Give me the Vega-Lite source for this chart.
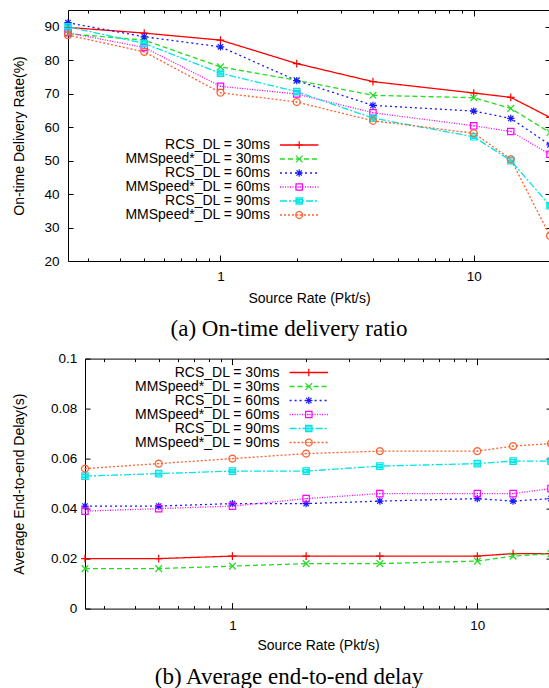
{
  "$schema": "https://vega.github.io/schema/vega-lite/v6.json",
  "padding": {"left": 10, "top": 9, "right": 0, "bottom": 0},
  "spacing": 8.6,
  "config": {
    "view": {"stroke": "black", "strokeWidth": 1},
    "axis": {"grid": false, "domain": false, "labelFont": "Liberation Sans", "titleFont": "Liberation Sans", "labelColor": "black", "titleColor": "black", "tickColor": "black", "tickWidth": 1, "titleFontWeight": "normal", "labelFontSize": 13.5, "titleFontSize": 14, "labelOverlap": false, "labelFlush": false},
    "legend": {"labelFont": "Liberation Sans", "labelColor": "black"},
    "title": {"font": "Liberation Serif", "fontWeight": "normal", "color": "black"}
  },
  "resolve": {
    "scale": {"stroke": "independent", "strokeDash": "independent", "color": "independent", "shape": "independent"},
    "legend": {"stroke": "independent", "strokeDash": "independent", "color": "independent", "shape": "independent"}
  },
  "datasets": {
    "ontime": [
      {"rate": 0.25, "series": "RCS_DL = 30ms", "v": 89.8},
      {"rate": 0.5, "series": "RCS_DL = 30ms", "v": 88.1},
      {"rate": 1, "series": "RCS_DL = 30ms", "v": 86.0},
      {"rate": 2, "series": "RCS_DL = 30ms", "v": 79.0},
      {"rate": 4, "series": "RCS_DL = 30ms", "v": 73.6},
      {"rate": 10, "series": "RCS_DL = 30ms", "v": 70.2},
      {"rate": 14, "series": "RCS_DL = 30ms", "v": 68.9},
      {"rate": 20, "series": "RCS_DL = 30ms", "v": 62.9},
      {"rate": 0.25, "series": "MMSpeed*_DL = 30ms", "v": 87.9},
      {"rate": 0.5, "series": "MMSpeed*_DL = 30ms", "v": 86.0},
      {"rate": 1, "series": "MMSpeed*_DL = 30ms", "v": 78.0},
      {"rate": 2, "series": "MMSpeed*_DL = 30ms", "v": 74.0},
      {"rate": 4, "series": "MMSpeed*_DL = 30ms", "v": 69.5},
      {"rate": 10, "series": "MMSpeed*_DL = 30ms", "v": 68.8},
      {"rate": 14, "series": "MMSpeed*_DL = 30ms", "v": 65.6},
      {"rate": 20, "series": "MMSpeed*_DL = 30ms", "v": 58.4},
      {"rate": 0.25, "series": "RCS_DL = 60ms", "v": 91.2},
      {"rate": 0.5, "series": "RCS_DL = 60ms", "v": 87.0},
      {"rate": 1, "series": "RCS_DL = 60ms", "v": 84.0},
      {"rate": 2, "series": "RCS_DL = 60ms", "v": 73.9},
      {"rate": 4, "series": "RCS_DL = 60ms", "v": 66.5},
      {"rate": 10, "series": "RCS_DL = 60ms", "v": 64.8},
      {"rate": 14, "series": "RCS_DL = 60ms", "v": 62.6},
      {"rate": 20, "series": "RCS_DL = 60ms", "v": 54.7},
      {"rate": 0.25, "series": "MMSpeed*_DL = 60ms", "v": 88.2},
      {"rate": 0.5, "series": "MMSpeed*_DL = 60ms", "v": 83.8},
      {"rate": 1, "series": "MMSpeed*_DL = 60ms", "v": 72.2},
      {"rate": 2, "series": "MMSpeed*_DL = 60ms", "v": 69.9},
      {"rate": 4, "series": "MMSpeed*_DL = 60ms", "v": 64.3},
      {"rate": 10, "series": "MMSpeed*_DL = 60ms", "v": 60.4},
      {"rate": 14, "series": "MMSpeed*_DL = 60ms", "v": 58.7},
      {"rate": 20, "series": "MMSpeed*_DL = 60ms", "v": 51.9},
      {"rate": 0.25, "series": "RCS_DL = 90ms", "v": 90.0},
      {"rate": 0.5, "series": "RCS_DL = 90ms", "v": 85.0},
      {"rate": 1, "series": "RCS_DL = 90ms", "v": 76.1},
      {"rate": 2, "series": "RCS_DL = 90ms", "v": 70.6},
      {"rate": 4, "series": "RCS_DL = 90ms", "v": 62.7},
      {"rate": 10, "series": "RCS_DL = 90ms", "v": 57.1},
      {"rate": 14, "series": "RCS_DL = 90ms", "v": 50.0},
      {"rate": 20, "series": "RCS_DL = 90ms", "v": 36.5},
      {"rate": 0.25, "series": "MMSpeed*_DL = 90ms", "v": 87.5},
      {"rate": 0.5, "series": "MMSpeed*_DL = 90ms", "v": 82.5},
      {"rate": 1, "series": "MMSpeed*_DL = 90ms", "v": 70.3},
      {"rate": 2, "series": "MMSpeed*_DL = 90ms", "v": 67.5},
      {"rate": 4, "series": "MMSpeed*_DL = 90ms", "v": 61.9},
      {"rate": 10, "series": "MMSpeed*_DL = 90ms", "v": 58.2},
      {"rate": 14, "series": "MMSpeed*_DL = 90ms", "v": 50.4},
      {"rate": 20, "series": "MMSpeed*_DL = 90ms", "v": 27.5}
    ],
    "delay": [
      {"rate": 0.25, "series": "RCS_DL = 30ms", "v": 0.020},
      {"rate": 0.5, "series": "RCS_DL = 30ms", "v": 0.020},
      {"rate": 1, "series": "RCS_DL = 30ms", "v": 0.021},
      {"rate": 2, "series": "RCS_DL = 30ms", "v": 0.021},
      {"rate": 4, "series": "RCS_DL = 30ms", "v": 0.021},
      {"rate": 10, "series": "RCS_DL = 30ms", "v": 0.021},
      {"rate": 14, "series": "RCS_DL = 30ms", "v": 0.022},
      {"rate": 20, "series": "RCS_DL = 30ms", "v": 0.022},
      {"rate": 0.25, "series": "MMSpeed*_DL = 30ms", "v": 0.016},
      {"rate": 0.5, "series": "MMSpeed*_DL = 30ms", "v": 0.016},
      {"rate": 1, "series": "MMSpeed*_DL = 30ms", "v": 0.017},
      {"rate": 2, "series": "MMSpeed*_DL = 30ms", "v": 0.018},
      {"rate": 4, "series": "MMSpeed*_DL = 30ms", "v": 0.018},
      {"rate": 10, "series": "MMSpeed*_DL = 30ms", "v": 0.019},
      {"rate": 14, "series": "MMSpeed*_DL = 30ms", "v": 0.021},
      {"rate": 20, "series": "MMSpeed*_DL = 30ms", "v": 0.022},
      {"rate": 0.25, "series": "RCS_DL = 60ms", "v": 0.041},
      {"rate": 0.5, "series": "RCS_DL = 60ms", "v": 0.041},
      {"rate": 1, "series": "RCS_DL = 60ms", "v": 0.042},
      {"rate": 2, "series": "RCS_DL = 60ms", "v": 0.042},
      {"rate": 4, "series": "RCS_DL = 60ms", "v": 0.043},
      {"rate": 10, "series": "RCS_DL = 60ms", "v": 0.044},
      {"rate": 14, "series": "RCS_DL = 60ms", "v": 0.043},
      {"rate": 20, "series": "RCS_DL = 60ms", "v": 0.044},
      {"rate": 0.25, "series": "MMSpeed*_DL = 60ms", "v": 0.039},
      {"rate": 0.5, "series": "MMSpeed*_DL = 60ms", "v": 0.040},
      {"rate": 1, "series": "MMSpeed*_DL = 60ms", "v": 0.041},
      {"rate": 2, "series": "MMSpeed*_DL = 60ms", "v": 0.044},
      {"rate": 4, "series": "MMSpeed*_DL = 60ms", "v": 0.046},
      {"rate": 10, "series": "MMSpeed*_DL = 60ms", "v": 0.046},
      {"rate": 14, "series": "MMSpeed*_DL = 60ms", "v": 0.046},
      {"rate": 20, "series": "MMSpeed*_DL = 60ms", "v": 0.048},
      {"rate": 0.25, "series": "RCS_DL = 90ms", "v": 0.053},
      {"rate": 0.5, "series": "RCS_DL = 90ms", "v": 0.054},
      {"rate": 1, "series": "RCS_DL = 90ms", "v": 0.055},
      {"rate": 2, "series": "RCS_DL = 90ms", "v": 0.055},
      {"rate": 4, "series": "RCS_DL = 90ms", "v": 0.057},
      {"rate": 10, "series": "RCS_DL = 90ms", "v": 0.058},
      {"rate": 14, "series": "RCS_DL = 90ms", "v": 0.059},
      {"rate": 20, "series": "RCS_DL = 90ms", "v": 0.059},
      {"rate": 0.25, "series": "MMSpeed*_DL = 90ms", "v": 0.056},
      {"rate": 0.5, "series": "MMSpeed*_DL = 90ms", "v": 0.058},
      {"rate": 1, "series": "MMSpeed*_DL = 90ms", "v": 0.060},
      {"rate": 2, "series": "MMSpeed*_DL = 90ms", "v": 0.062},
      {"rate": 4, "series": "MMSpeed*_DL = 90ms", "v": 0.063},
      {"rate": 10, "series": "MMSpeed*_DL = 90ms", "v": 0.063},
      {"rate": 14, "series": "MMSpeed*_DL = 90ms", "v": 0.065},
      {"rate": 20, "series": "MMSpeed*_DL = 90ms", "v": 0.066}
    ]
  },
  "vconcat": [
    {
      "spacing": 0,
      "resolve": {
        "scale": {"stroke": "independent", "strokeDash": "independent", "color": "independent", "shape": "independent"},
        "legend": {"stroke": "independent", "strokeDash": "independent", "color": "independent", "shape": "independent"}
      },
      "hconcat": [
        {"width": 1, "height": 1, "data": {"values": [{"s": 0}]}, "mark": {"type": "point", "opacity": 0, "size": 0, "strokeWidth": 0}, "view": {"stroke": null}},
        {
          "width": 482,
          "height": 251,
          "data": {"name": "ontime"},
          "title": {"text": "(a) On-time delivery ratio", "orient": "bottom", "fontSize": 23, "anchor": "middle", "frame": "group", "dx": -20, "offset": 12},
          "resolve": {"axis": {"x": "independent", "y": "independent"}},
          "layer": [
            {
              "mark": {"type": "line", "strokeWidth": 1.3},
              "encoding": {
                "x": {"field": "rate", "type": "quantitative", "scale": {"type": "log", "domain": [0.25, 20], "nice": false},
                  "axis": {"orient": "bottom", "values": [0.3, 0.4, 0.5, 0.6, 0.7, 0.8, 0.9, 1, 2, 3, 4, 5, 6, 7, 8, 9, 10], "tickSize": -3, "labelPadding": 11.5, "labelExpr": "datum.value == 1 ? '1' : datum.value == 10 ? '10' : ''", "title": "Source Rate (Pkt/s)", "titlePadding": 8.7}},
                "y": {"field": "v", "type": "quantitative", "scale": {"domain": [20, 95], "nice": false, "zero": false},
                  "axis": {"orient": "left", "values": [20, 30, 40, 50, 60, 70, 80, 90], "tickSize": -5, "labelPadding": 14, "title": "On-time Delivery Rate(%)", "titlePadding": 17.5}},
                "stroke": {"field": "series", "type": "nominal",
                  "scale": {"domain": ["RCS_DL = 30ms", "MMSpeed*_DL = 30ms", "RCS_DL = 60ms", "MMSpeed*_DL = 60ms", "RCS_DL = 90ms", "MMSpeed*_DL = 90ms"], "range": ["#ff0000", "#22dd22", "#1a1aff", "#ff00ff", "#00e5e5", "#ff6030"]},
                  "legend": {"orient": "none", "legendX": 224.2, "legendY": 128, "title": null, "symbolType": "M-6,0L6,0", "symbolSize": 41, "symbolStrokeWidth": 1.5, "labelAlign": "right", "labelOffset": -36.2, "labelFontSize": 14, "rowPadding": 0, "padding": 0}},
                "strokeDash": {"field": "series", "type": "nominal",
                  "scale": {"domain": ["RCS_DL = 30ms", "MMSpeed*_DL = 30ms", "RCS_DL = 60ms", "MMSpeed*_DL = 60ms", "RCS_DL = 90ms", "MMSpeed*_DL = 90ms"], "range": [[1, 0], [5, 3], [2, 3], [1, 1.5], [7, 2, 2, 2], [2, 2]]},
                  "legend": {"orient": "none", "legendX": 224.2, "legendY": 128, "title": null, "symbolType": "M-6,0L6,0", "symbolSize": 41, "symbolStrokeWidth": 1.5, "labelAlign": "right", "labelOffset": -36.2, "labelFontSize": 14, "rowPadding": 0, "padding": 0}}
              }
            },
            {
              "mark": {"type": "point", "filled": false, "strokeWidth": 1.2, "size": 45, "opacity": 1},
              "encoding": {
                "x": {"field": "rate", "type": "quantitative", "scale": {"type": "log", "domain": [0.25, 20], "nice": false},
                  "axis": {"orient": "top", "values": [0.3, 0.4, 0.5, 0.6, 0.7, 0.8, 0.9, 1, 2, 3, 4, 5, 6, 7, 8, 9, 10], "tickSize": -3, "labels": false, "title": null}},
                "y": {"field": "v", "type": "quantitative", "scale": {"domain": [20, 95], "nice": false, "zero": false},
                  "axis": {"orient": "right", "values": [20, 30, 40, 50, 60, 70, 80, 90], "tickSize": -5, "labels": false, "title": null}},
                "color": {"field": "series", "type": "nominal",
                  "scale": {"range": ["#22dd22", "#ff00ff", "#ff6030", "#ff0000", "#1a1aff", "#00e5e5"]},
                  "legend": {"orient": "none", "legendX": 224.2, "legendY": 128, "title": null, "values": ["RCS_DL = 30ms", "MMSpeed*_DL = 30ms", "RCS_DL = 60ms", "MMSpeed*_DL = 60ms", "RCS_DL = 90ms", "MMSpeed*_DL = 90ms"], "symbolSize": 45, "symbolStrokeWidth": 1.2, "labelAlign": "right", "labelOffset": 40, "labelFontSize": 14, "labelExpr": "' '", "labelOpacity": 0, "rowPadding": 0, "padding": 0}},
                "shape": {"field": "series", "type": "nominal",
                  "scale": {"range": ["M-1,-1L1,1M-1,1L1,-1", "M-0.95,-0.95L0.95,-0.95L0.95,0.95L-0.95,0.95Z M-0.15,0L0.15,0", "M1.05,0L0.91,0.525L0.525,0.91L0,1.05L-0.525,0.91L-0.91,0.525L-1.05,0L-0.91,-0.525L-0.525,-0.91L0,-1.05L0.525,-0.91L0.91,-0.525Z M-0.15,0L0.15,0", "M-1.15,0L1.15,0M0,-1.15L0,1.15", "M-1.1,0L1.1,0M0,-1.1L0,1.1M-0.8,-0.8L0.8,0.8M-0.8,0.8L0.8,-0.8", "M-0.95,-0.95L0.95,-0.95L0.95,0.95L-0.95,0.95Z M-0.95,-0.47L0.95,-0.47 M-0.95,0L0.95,0 M-0.95,0.47L0.95,0.47"]},
                  "legend": {"orient": "none", "legendX": 224.2, "legendY": 128, "title": null, "values": ["RCS_DL = 30ms", "MMSpeed*_DL = 30ms", "RCS_DL = 60ms", "MMSpeed*_DL = 60ms", "RCS_DL = 90ms", "MMSpeed*_DL = 90ms"], "symbolSize": 45, "symbolStrokeWidth": 1.2, "labelAlign": "right", "labelOffset": 40, "labelFontSize": 14, "labelExpr": "' '", "labelOpacity": 0, "rowPadding": 0, "padding": 0}}
              }
            },
            {
              "mark": {"type": "point", "opacity": 0},
              "encoding": {
                "x": {"field": "rate", "type": "quantitative", "scale": {"type": "log", "domain": [0.25, 20], "nice": false},
                  "axis": {"orient": "bottom", "values": [1, 10], "tickSize": -6, "labels": false, "title": null}},
                "y": {"field": "v", "type": "quantitative", "axis": null}
              }
            },
            {
              "mark": {"type": "point", "opacity": 0},
              "encoding": {
                "x": {"field": "rate", "type": "quantitative", "scale": {"type": "log", "domain": [0.25, 20], "nice": false},
                  "axis": {"orient": "top", "values": [1, 10], "tickSize": -6, "labels": false, "title": null}},
                "y": {"field": "v", "type": "quantitative", "axis": null}
              }
            }
          ]
        }
      ]
    },
    {
      "spacing": 0,
      "resolve": {
        "scale": {"stroke": "independent", "strokeDash": "independent", "color": "independent", "shape": "independent"},
        "legend": {"stroke": "independent", "strokeDash": "independent", "color": "independent", "shape": "independent"}
      },
      "hconcat": [
        {"width": 1, "height": 1, "data": {"values": [{"s": 0}]}, "mark": {"type": "point", "opacity": 0, "size": 0, "strokeWidth": 0}, "view": {"stroke": null}},
        {
          "width": 466,
          "height": 250,
          "data": {"name": "delay"},
          "title": {"text": "(b) Average end-to-end delay", "orient": "bottom", "fontSize": 23, "anchor": "middle", "frame": "group", "dx": -29, "offset": 13},
          "resolve": {"axis": {"x": "independent", "y": "independent"}},
          "layer": [
            {
              "mark": {"type": "line", "strokeWidth": 1.3},
              "encoding": {
                "x": {"field": "rate", "type": "quantitative", "scale": {"type": "log", "domain": [0.25, 20], "nice": false},
                  "axis": {"orient": "bottom", "values": [0.3, 0.4, 0.5, 0.6, 0.7, 0.8, 0.9, 1, 2, 3, 4, 5, 6, 7, 8, 9, 10], "tickSize": -3, "labelPadding": 12.5, "labelExpr": "datum.value == 1 ? '1' : datum.value == 10 ? '10' : ''", "title": "Source Rate (Pkt/s)", "titlePadding": 7}},
                "y": {"field": "v", "type": "quantitative", "scale": {"domain": [0, 0.1], "nice": false},
                  "axis": {"orient": "left", "values": [0, 0.02, 0.04, 0.06, 0.08, 0.1], "format": "~g", "tickSize": -5, "labelPadding": 13.3, "title": "Average End-to-end Delay(s)", "titlePadding": 24.2}},
                "stroke": {"field": "series", "type": "nominal",
                  "scale": {"domain": ["RCS_DL = 30ms", "MMSpeed*_DL = 30ms", "RCS_DL = 60ms", "MMSpeed*_DL = 60ms", "RCS_DL = 90ms", "MMSpeed*_DL = 90ms"], "range": ["#ff0000", "#22dd22", "#1a1aff", "#ff00ff", "#00e5e5", "#ff6030"]},
                  "legend": {"orient": "none", "legendX": 216.8, "legendY": 6.9, "title": null, "symbolType": "M-6,0L6,0", "symbolSize": 41, "symbolStrokeWidth": 1.5, "labelAlign": "right", "labelOffset": -36.2, "labelFontSize": 14, "rowPadding": 0, "padding": 0}},
                "strokeDash": {"field": "series", "type": "nominal",
                  "scale": {"domain": ["RCS_DL = 30ms", "MMSpeed*_DL = 30ms", "RCS_DL = 60ms", "MMSpeed*_DL = 60ms", "RCS_DL = 90ms", "MMSpeed*_DL = 90ms"], "range": [[1, 0], [5, 3], [2, 3], [1, 1.5], [7, 2, 2, 2], [2, 2]]},
                  "legend": {"orient": "none", "legendX": 216.8, "legendY": 6.9, "title": null, "symbolType": "M-6,0L6,0", "symbolSize": 41, "symbolStrokeWidth": 1.5, "labelAlign": "right", "labelOffset": -36.2, "labelFontSize": 14, "rowPadding": 0, "padding": 0}}
              }
            },
            {
              "mark": {"type": "point", "filled": false, "strokeWidth": 1.2, "size": 45, "opacity": 1},
              "encoding": {
                "x": {"field": "rate", "type": "quantitative", "scale": {"type": "log", "domain": [0.25, 20], "nice": false},
                  "axis": {"orient": "top", "values": [0.3, 0.4, 0.5, 0.6, 0.7, 0.8, 0.9, 1, 2, 3, 4, 5, 6, 7, 8, 9, 10], "tickSize": -3, "labels": false, "title": null}},
                "y": {"field": "v", "type": "quantitative", "scale": {"domain": [0, 0.1], "nice": false},
                  "axis": {"orient": "right", "values": [0, 0.02, 0.04, 0.06, 0.08, 0.1], "tickSize": -5, "labels": false, "title": null}},
                "color": {"field": "series", "type": "nominal",
                  "scale": {"range": ["#22dd22", "#ff00ff", "#ff6030", "#ff0000", "#1a1aff", "#00e5e5"]},
                  "legend": {"orient": "none", "legendX": 216.8, "legendY": 6.9, "title": null, "values": ["RCS_DL = 30ms", "MMSpeed*_DL = 30ms", "RCS_DL = 60ms", "MMSpeed*_DL = 60ms", "RCS_DL = 90ms", "MMSpeed*_DL = 90ms"], "symbolSize": 45, "symbolStrokeWidth": 1.2, "labelAlign": "right", "labelOffset": 40, "labelFontSize": 14, "labelExpr": "' '", "labelOpacity": 0, "rowPadding": 0, "padding": 0}},
                "shape": {"field": "series", "type": "nominal",
                  "scale": {"range": ["M-1,-1L1,1M-1,1L1,-1", "M-0.95,-0.95L0.95,-0.95L0.95,0.95L-0.95,0.95Z M-0.15,0L0.15,0", "M1.05,0L0.91,0.525L0.525,0.91L0,1.05L-0.525,0.91L-0.91,0.525L-1.05,0L-0.91,-0.525L-0.525,-0.91L0,-1.05L0.525,-0.91L0.91,-0.525Z M-0.15,0L0.15,0", "M-1.15,0L1.15,0M0,-1.15L0,1.15", "M-1.1,0L1.1,0M0,-1.1L0,1.1M-0.8,-0.8L0.8,0.8M-0.8,0.8L0.8,-0.8", "M-0.95,-0.95L0.95,-0.95L0.95,0.95L-0.95,0.95Z M-0.95,-0.47L0.95,-0.47 M-0.95,0L0.95,0 M-0.95,0.47L0.95,0.47"]},
                  "legend": {"orient": "none", "legendX": 216.8, "legendY": 6.9, "title": null, "values": ["RCS_DL = 30ms", "MMSpeed*_DL = 30ms", "RCS_DL = 60ms", "MMSpeed*_DL = 60ms", "RCS_DL = 90ms", "MMSpeed*_DL = 90ms"], "symbolSize": 45, "symbolStrokeWidth": 1.2, "labelAlign": "right", "labelOffset": 40, "labelFontSize": 14, "labelExpr": "' '", "labelOpacity": 0, "rowPadding": 0, "padding": 0}}
              }
            },
            {
              "mark": {"type": "point", "opacity": 0},
              "encoding": {
                "x": {"field": "rate", "type": "quantitative", "scale": {"type": "log", "domain": [0.25, 20], "nice": false},
                  "axis": {"orient": "bottom", "values": [1, 10], "tickSize": -6, "labels": false, "title": null}},
                "y": {"field": "v", "type": "quantitative", "axis": null}
              }
            },
            {
              "mark": {"type": "point", "opacity": 0},
              "encoding": {
                "x": {"field": "rate", "type": "quantitative", "scale": {"type": "log", "domain": [0.25, 20], "nice": false},
                  "axis": {"orient": "top", "values": [1, 10], "tickSize": -6, "labels": false, "title": null}},
                "y": {"field": "v", "type": "quantitative", "axis": null}
              }
            }
          ]
        }
      ]
    }
  ]
}
